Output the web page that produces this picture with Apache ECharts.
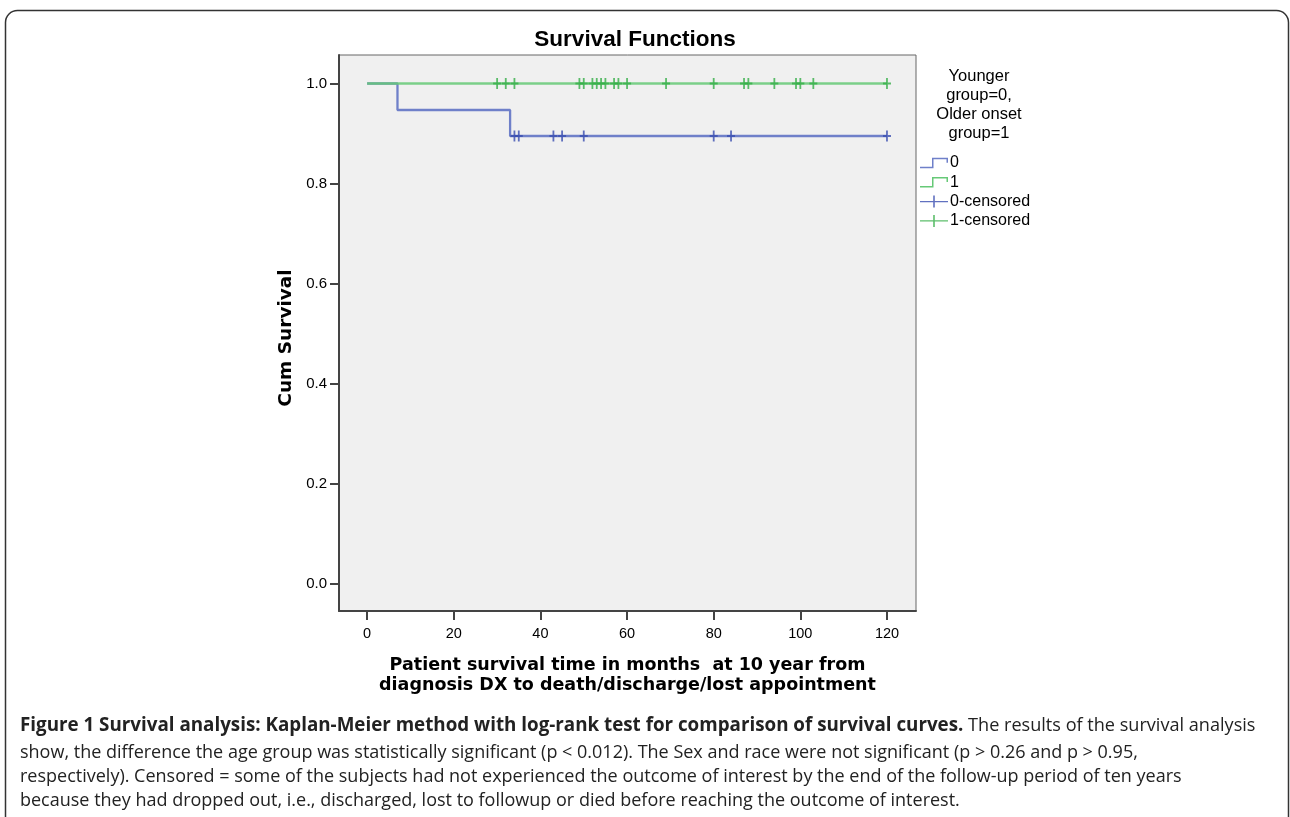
<!DOCTYPE html>
<html>
<head>
<meta charset="utf-8">
<script src="https://cdn.jsdelivr.net/npm/echarts@6.0.0/dist/echarts.min.js"></script>
<style>
html,body{margin:0;padding:0;background:#fff;}
#chart{width:1290px;height:817px;}
</style>
</head>
<body>
<div id="chart"></div>
<script>
// ---- data ----
var xTicks = [0, 20, 40, 60, 80, 100, 120];
var yTicks = [0.0, 0.2, 0.4, 0.6, 0.8, 1.0];

// group 0 (Younger): step curve
var group0Times = [0, 7, 33, 120];
var group0Surv  = [1.0, 0.947, 0.895, 0.895];
// group 1 (Older onset): step curve
var group1Times = [0, 120];
var group1Surv  = [1.0, 1.0];

// censored times
var group0Censored = [34, 35, 43, 45, 50, 80, 84, 120];
var group1Censored = [30, 32, 34, 49, 50, 52, 53, 54, 55, 57, 58, 60, 69, 80, 87, 88, 94, 99, 100, 103, 120];

var seriesNames = ['0', '1', '0-censored', '1-censored'];

// ---- helpers ----
function pairs(xs, ys) { return xs.map(function (x, i) { return [x, ys[i]]; }); }
function levelAt(xs, ys, t) {
  var v = ys[0];
  for (var i = 0; i < xs.length; i++) { if (xs[i] <= t) v = ys[i]; }
  return v;
}
function censoredPoints(times, xs, ys) {
  return times.map(function (t) { return [t, levelAt(xs, ys, t)]; });
}

var blueLine = '#6f80c9';
var blueMark = '#3a4db0';
var greenLine = '#66c977';
var greenMark = '#34ae47';

var crossPath = 'path://M0,4.6 L3.1,4.6 L3.1,0 L4.9,0 L4.9,4.6 L8,4.6 L8,6.4 L4.9,6.4 L4.9,11 L3.1,11 L3.1,6.4 L0,6.4 Z';
var stepIcon = 'path://M0,9 L12,9 L12,0 L28,0 L28,5 L26.5,5 L26.5,1.5 L13.5,1.5 L13.5,10.5 L0,10.5 Z';
var crossIcon = 'path://M0,5.3 L13.2,5.3 L13.2,0 L14.8,0 L14.8,5.3 L28,5.3 L28,6.7 L14.8,6.7 L14.8,12 L13.2,12 L13.2,6.7 L0,6.7 Z';

var chart = echarts.init(document.getElementById('chart'), null, { renderer: 'canvas' });

var capFont = 'Open Sans, sans-serif';

var option = {
  backgroundColor: '#ffffff',
  animation: false,
  title: [
    {
      text: 'Survival Functions',
      left: 630, top: 23, textAlign: 'center',
      textStyle: { fontFamily: 'Liberation Sans, Arial, sans-serif', fontWeight: 'bold', fontSize: 22.5, color: '#000' }
    },
    {
      text: 'Younger\ngroup=0,\nOlder onset\ngroup=1',
      left: 974, top: 62, textAlign: 'center',
      textStyle: { fontFamily: 'Liberation Sans, Arial, sans-serif', fontWeight: 'normal', fontSize: 16.5, lineHeight: 19, color: '#000' }
    }
  ],
  legend: {
    orient: 'vertical',
    left: 915, top: 150,
    itemWidth: 28, itemHeight: 12, itemGap: 3.3,
    textStyle: { fontFamily: 'Liberation Sans, Arial, sans-serif', fontSize: 16, color: '#000', padding: [0, 0, 0, -3] },
    data: [
      { name: '0', icon: stepIcon },
      { name: '1', icon: stepIcon },
      { name: '0-censored', icon: crossIcon },
      { name: '1-censored', icon: crossIcon }
    ]
  },
  grid: {
    left: 339, top: 55, right: 374, bottom: 206,
    show: true, backgroundColor: '#f0f0f0', borderColor: '#666', borderWidth: 1
  },
  xAxis: {
    type: 'value', min: -6.5, max: 126.7,
    name: 'Patient survival time in months  at 10 year from\ndiagnosis DX to death/discharge/lost appointment',
    nameLocation: 'middle', nameGap: 44,
    nameTextStyle: { fontFamily: 'DejaVu Sans, Verdana, sans-serif', fontWeight: 'bold', fontSize: 17.5, lineHeight: 20, color: '#000' },
    axisLine: { show: true, onZero: false, lineStyle: { color: '#444', width: 2 } },
    axisTick: { show: true, customValues: xTicks, length: 9, lineStyle: { color: '#444', width: 2 } },
    axisLabel: { customValues: xTicks, margin: 15, fontFamily: 'Liberation Sans, Arial, sans-serif', fontSize: 14.5, color: '#000' },
    splitLine: { show: false }
  },
  yAxis: {
    type: 'value', min: -0.055, max: 1.057,
    name: 'Cum Survival',
    nameLocation: 'middle', nameGap: 43,
    nameTextStyle: { fontFamily: 'DejaVu Sans, Verdana, sans-serif', fontWeight: 'bold', fontSize: 18.5, color: '#000', padding: [0, 10, 0, 0] },
    axisLine: { show: true, onZero: false, lineStyle: { color: '#444', width: 2 } },
    axisTick: { show: true, customValues: yTicks, length: 9, lineStyle: { color: '#444', width: 2 } },
    axisLabel: {
      customValues: yTicks, margin: 12,
      fontFamily: 'Liberation Sans, Arial, sans-serif', fontSize: 15, color: '#000',
      formatter: function (v) { return Number(v).toFixed(1); }
    },
    splitLine: { show: false }
  },
  series: [
    {
      name: seriesNames[0], type: 'line', step: 'end',
      data: pairs(group0Times, group0Surv),
      symbol: 'none', z: 2,
      lineStyle: { color: blueLine, width: 2.3 },
      itemStyle: { color: blueLine }
    },
    {
      name: seriesNames[1], type: 'line', step: 'end',
      data: pairs(group1Times, group1Surv),
      symbol: 'none', z: 3,
      lineStyle: { color: greenLine, width: 2.3, opacity: 0.85 },
      itemStyle: { color: greenLine }
    },
    {
      name: seriesNames[2], type: 'scatter',
      data: censoredPoints(group0Censored, group0Times, group0Surv),
      symbol: crossPath, symbolSize: [8, 11], z: 4,
      itemStyle: { color: blueMark }
    },
    {
      name: seriesNames[3], type: 'scatter',
      data: censoredPoints(group1Censored, group1Times, group1Surv),
      symbol: crossPath, symbolSize: [8, 11], z: 5,
      itemStyle: { color: greenMark }
    }
  ],
  graphic: [
    {
      type: 'rect', silent: true, z: 0,
      shape: { x: 5.5, y: 10.5, width: 1283, height: 900, r: [12, 12, 0, 0] },
      style: { fill: 'none', stroke: '#333', lineWidth: 1.5 }
    },
    {
      type: 'text', left: 20, top: 716, silent: true,
      style: {
        text: '{b|Figure 1 Survival analysis: Kaplan-Meier method with log-rank test for comparison of survival curves.}{r| The results of the survival analysis}',
        rich: {
          b: { fontFamily: capFont, fontWeight: 'bold', fontSize: 18.8, fill: '#222' },
          r: { fontFamily: capFont, fontSize: 18.1, fill: '#222' }
        }
      }
    },
    {
      type: 'text', left: 20, top: 744, silent: true,
      style: { text: 'show, the difference the age group was statistically significant (p < 0.012). The Sex and race were not significant (p > 0.26 and p > 0.95,', fontFamily: capFont, fontSize: 18, fill: '#222' }
    },
    {
      type: 'text', left: 20, top: 768, silent: true,
      style: { text: 'respectively). Censored = some of the subjects had not experienced the outcome of interest by the end of the follow-up period of ten years', fontFamily: capFont, fontSize: 18, fill: '#222' }
    },
    {
      type: 'text', left: 20, top: 792, silent: true,
      style: { text: 'because they had dropped out, i.e., discharged, lost to followup or died before reaching the outcome of interest.', fontFamily: capFont, fontSize: 18, fill: '#222' }
    }
  ]
};
chart.setOption(option);
</script>
</body>
</html>
